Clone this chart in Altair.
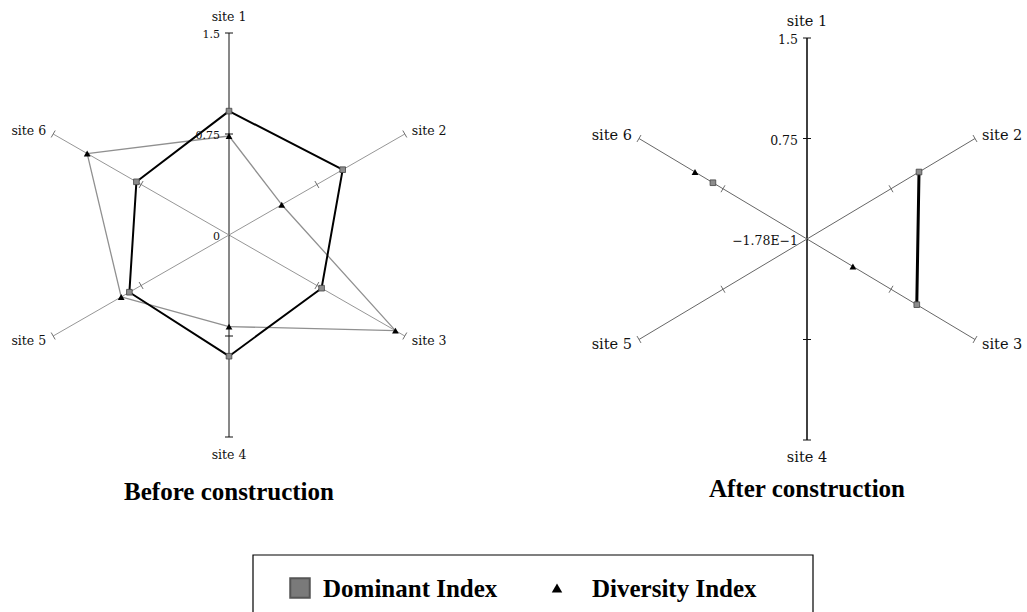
import altair as alt
import pandas as pd

# ---------------- data ----------------
sites = ["site 1", "site 2", "site 3", "site 4", "site 5", "site 6"]
before_dominant = [0.92, 0.97, 0.79, 0.90, 0.85, 0.79]
before_diversity = [0.735, 0.45, 1.42, 0.68, 0.92, 1.21]
after_dominant = [None, 1.00, 0.98, None, None, 0.84]
after_diversity = [None, None, 0.41, None, None, 1.00]
axis_tick_values = [0.75, 1.5]
tick_values = [0, 0.75, 1.5]
before_tick_labels = ["0", "0.75", "1.5"]
after_tick_labels = ["\u22121.78E\u22121", "0.75", "1.5"]
panel_titles = ["Before construction", "After construction"]
legend_labels = ["Dominant Index", "Diversity Index"]

# ---------------- layout ----------------
W, H = 1027, 612
geo = {
    "before": dict(cx=229, cy=235, rx=203, ry=202, lab=12.5, tick=11, lw=2.0, sw_v=1.0, sw_d=0.9,
                   title_y=500, title=panel_titles[0]),
    "after": dict(cx=807, cy=239, rx=194, ry=201, lab=14.5, tick=12.5, lw=3.0, sw_v=1.6, sw_d=1.0,
                  title_y=497, title=panel_titles[1]),
}
series = {
    "before": {"Dominant Index": before_dominant, "Diversity Index": before_diversity},
    "after": {"Dominant Index": after_dominant, "Diversity Index": after_diversity},
}
tick_labels = {"before": before_tick_labels, "after": after_tick_labels}


def add_geo(df):
    for k in ["cx", "cy", "rx", "ry"]:
        df[k] = df["panel"].map(lambda p: geo[p][k])
    return df


PX = "datum.cx + datum.rx * datum.v / 1.5 * sin(datum.idx * PI / 3)"
PY = "datum.cy - datum.ry * datum.v / 1.5 * cos(datum.idx * PI / 3)"
PX2 = "datum.cx + datum.rx * datum.v2 / 1.5 * sin(datum.idx2 * PI / 3)"
PY2 = "datum.cy - datum.ry * datum.v2 / 1.5 * cos(datum.idx2 * PI / 3)"

xs = alt.Scale(domain=[0, W], range=[0, W], nice=False, zero=False)
ys = alt.Scale(domain=[0, H], range=[0, H], nice=False, zero=False)

X = lambda f: alt.X(f, type="quantitative", scale=xs, axis=None)
Y = lambda f: alt.Y(f, type="quantitative", scale=ys, axis=None)
X2 = lambda f: alt.X2(f)
Y2 = lambda f: alt.Y2(f)

layers = []

# spokes
spk = add_geo(pd.DataFrame([{"panel": p, "idx": i, "v": 1.5, "v2": 0.0, "idx2": i}
                            for p in geo for i in range(6)]))
spk["vert"] = spk["idx"] % 3 == 0
spk["sw"] = [geo[p]["sw_v"] if v else geo[p]["sw_d"] for p, v in zip(spk["panel"], spk["vert"])]
spk["col"] = ["#111111" if v else ("#8a8a8a" if p == "before" else "#666666")
              for p, v in zip(spk["panel"], spk["vert"])]
layers.append(
    alt.Chart(spk).mark_rule().transform_calculate(px=PX, py=PY, px2=PX2, py2=PY2).encode(
        x=X("px"), y=Y("py"), x2=X2("px2"), y2=Y2("py2"),
        color=alt.Color("col:N", scale=None), strokeWidth=alt.StrokeWidth("sw:Q", scale=None))
)

# tick marks on the spokes
tk = add_geo(pd.DataFrame([{"panel": p, "idx": i, "v": v} for p in geo for i in range(6)
                           for v in axis_tick_values]))
tk["col"] = ["#111111" if i % 3 == 0 else "#6e6e6e" for i in tk["idx"]]
layers.append(
    alt.Chart(tk).mark_rule(strokeWidth=1).transform_calculate(px=PX, py=PY).transform_calculate(
        ax="datum.px - 4 * cos(datum.idx * PI / 3)", ay="datum.py - 4 * sin(datum.idx * PI / 3)",
        bx="datum.px + 4 * cos(datum.idx * PI / 3)", by="datum.py + 4 * sin(datum.idx * PI / 3)"
    ).encode(x=X("ax"), y=Y("ay"), x2=X2("bx"), y2=Y2("by"), color=alt.Color("col:N", scale=None))
)

# series segments (connect consecutive non-missing values, closing the ring)
segs = []
for p in geo:
    for s, vals in series[p].items():
        for i in range(6):
            j = (i + 1) % 6
            if vals[i] is not None and vals[j] is not None:
                segs.append({"panel": p, "series": s, "idx": i, "v": vals[i], "idx2": j, "v2": vals[j]})
segs = add_geo(pd.DataFrame(segs))
segs["col"] = ["#000000" if s == "Dominant Index" else "#909090" for s in segs["series"]]
segs["sw"] = [geo[p]["lw"] if s == "Dominant Index" else 1.3 for p, s in zip(segs["panel"], segs["series"])]
segs["ord"] = [1 if s == "Dominant Index" else 0 for s in segs["series"]]
for o in [0, 1]:
    layers.append(
        alt.Chart(segs[segs["ord"] == o]).mark_rule(strokeCap="round").transform_calculate(
            px=PX, py=PY, px2=PX2, py2=PY2).encode(
            x=X("px"), y=Y("py"), x2=X2("px2"), y2=Y2("py2"),
            color=alt.Color("col:N", scale=None), strokeWidth=alt.StrokeWidth("sw:Q", scale=None))
    )

# markers
pts = []
for p in geo:
    for s, vals in series[p].items():
        for i, v in enumerate(vals):
            if v is not None:
                pts.append({"panel": p, "series": s, "idx": i, "v": v})
pts = add_geo(pd.DataFrame(pts))
layers.append(
    alt.Chart(pts[pts["series"] == "Dominant Index"]).mark_point(
        shape="square", filled=True, fill="#8c8c8c", stroke="#444444", strokeWidth=0.8, size=32, opacity=1
    ).transform_calculate(px=PX, py=PY).encode(x=X("px"), y=Y("py"))
)
layers.append(
    alt.Chart(pts[pts["series"] == "Diversity Index"]).mark_point(
        shape="triangle-up", filled=True, fill="#000000", size=46, opacity=1
    ).transform_calculate(px=PX, py=PY).encode(x=X("px"), y=Y("py"))
)

# site labels
lab = add_geo(pd.DataFrame([{"panel": p, "idx": i, "v": 1.5, "site": sites[i]} for p in geo for i in range(6)]))
lab["fs"] = lab["panel"].map(lambda p: geo[p]["lab"])
LX = "datum.px + (sin(datum.idx * PI / 3) > 0.1 ? 7 : (sin(datum.idx * PI / 3) < -0.1 ? -7 : 0))"
LY = "datum.py + (datum.idx == 0 ? -16 : (datum.idx == 3 ? 18 : (datum.idx == 1 || datum.idx == 5 ? -3 : 5)))"
for al, ids in [("left", [1, 2]), ("right", [4, 5]), ("center", [0, 3])]:
    layers.append(
        alt.Chart(lab[lab["idx"].isin(ids)]).mark_text(
            align=al, baseline="middle", font="DejaVu Serif", color="#111111"
        ).transform_calculate(px=PX, py=PY).transform_calculate(lx=LX, ly=LY).encode(
            x=X("lx"), y=Y("ly"), text="site:N", size=alt.Size("fs:Q", scale=None))
    )

# radial tick labels (on the site 1 spoke)
tl = []
for p in geo:
    for v, t in zip(tick_values, tick_labels[p]):
        tl.append({"panel": p, "idx": 0, "v": v, "t": t})
tl = add_geo(pd.DataFrame(tl))
tl["fs"] = tl["panel"].map(lambda p: geo[p]["tick"])
layers.append(
    alt.Chart(tl).mark_text(align="right", baseline="middle", font="DejaVu Serif", color="#111111", dx=-9, dy=2)
    .transform_calculate(px=PX, py=PY).encode(
        x=X("px"), y=Y("py"), text="t:N", size=alt.Size("fs:Q", scale=None))
)

# panel titles
tt = pd.DataFrame([{"t": geo[p]["title"], "tx": geo[p]["cx"], "ty": geo[p]["title_y"]} for p in geo])
layers.append(
    alt.Chart(tt).mark_text(align="center", baseline="alphabetic", font="Liberation Serif",
                            fontWeight="bold", fontSize=25, color="#000000")
    .encode(x=X("tx"), y=Y("ty"), text="t:N")
)

# legend box
layers.append(
    alt.Chart(pd.DataFrame({"a": [0]})).mark_rect(fill="white", fillOpacity=0, stroke="#000000", strokeWidth=1.2)
    .encode(x=alt.value(253), x2=alt.value(813), y=alt.value(555), y2=alt.value(640))
)
leg = pd.DataFrame({"label": legend_labels, "mx": [300, 557], "my": [588, 588], "tx": [323, 592]})
layers.append(
    alt.Chart(leg[leg["label"] == legend_labels[0]]).mark_point(
        shape="square", filled=True, fill="#7a7a7a", stroke="#555555", size=380, opacity=1)
    .encode(x=X("mx"), y=Y("my"))
)
layers.append(
    alt.Chart(leg[leg["label"] == legend_labels[1]]).mark_point(
        shape="triangle-up", filled=True, fill="#000000", size=110, opacity=1)
    .encode(x=X("mx"), y=Y("my"))
)
layers.append(
    alt.Chart(leg).mark_text(align="left", baseline="middle", font="Liberation Serif", fontWeight="bold",
                             fontSize=25, color="#000000", dy=1)
    .encode(x=X("tx"), y=Y("my"), text="label:N")
)

chart = alt.layer(*layers).properties(
    width=W, height=H, autosize=alt.AutoSizeParams(type="none"), padding=0, background="white"
).configure_view(stroke=None)

chart.save("out.html", embed_options={"renderer": "svg", "actions": False})
